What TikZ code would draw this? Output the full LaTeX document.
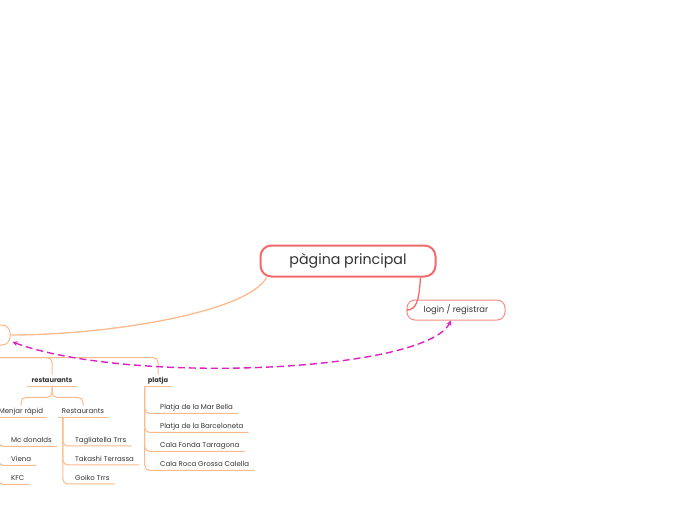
\documentclass[tikz,border=0pt]{standalone}
\usepackage{fontspec}
\setmainfont{Poppins}
\usetikzlibrary{arrows.meta,calc,positioning}
\definecolor{MainRed}{HTML}{F36A6A}
\definecolor{LoginRed}{HTML}{F98D84}
\definecolor{BranchOrange}{HTML}{FDBA8C}
\definecolor{LinkMagenta}{HTML}{DC22C2}
\definecolor{TextGray}{HTML}{333333}

\begin{document}
\begin{tikzpicture}[x=1pt,y=-1pt,text=TextGray,
    mainbox/.style={draw=MainRed,line width=2pt,rounded corners=11pt,fill=white,
      minimum width=175pt,minimum height=31pt,font=\fontsize{14.2}{16}\selectfont},
    loginbox/.style={draw=LoginRed,line width=1pt,rounded corners=8pt,fill=white,
      minimum width=98pt,minimum height=20pt,font=\fontsize{8.4}{10}\selectfont},
    startbox/.style={draw=BranchOrange,line width=1pt,rounded corners=8pt,
      minimum width=70pt,minimum height=20pt},
    topic/.style={font=\bfseries\fontsize{6.7}{8}\selectfont,inner xsep=4pt,inner ysep=2.5pt,
      text height=5.5pt,text depth=1pt},
    leaf/.style={anchor=west,font=\fontsize{7}{8}\selectfont,inner xsep=5pt,inner ysep=2.5pt,
      text height=5.5pt,text depth=1pt},
    branch/.style={draw=BranchOrange,line width=1pt,rounded corners=5pt},
    link/.style={draw=LinkMagenta,line width=1.4pt,dash pattern=on 7pt off 4pt,
      {Stealth[length=5pt,width=5pt]}-{Stealth[length=5pt,width=5pt]}}]
  \useasboundingbox[fill=white] (0,0) rectangle (697,520);

  % central topic and its two children
  \node[mainbox] (main) at (348,261) {pàgina principal};
  \node[loginbox] (login) at (456,310) {login / registrar};
  \node[startbox] (inici) at (-25,335) {};

  \draw[branch,line width=1.3pt] ($(main.south west)+(7,0)$) .. controls (248,312) and (110,335) .. (inici.east);
  \draw[draw=MainRed,line width=1.3pt] ($(main.south east)+(-16,0)$) .. controls (419,302) and (416,310) .. (login.west);

  % second level
  \node[topic] (restaurants) at (52,380.5) {restaurants};
  \node[topic] (platja) at (158,380.5) {platja};
  \draw[branch] (inici.south) -- ++(0,12) -| (restaurants.north);
  \draw[branch] (inici.south) -- ++(0,12) -| (platja.north);
  \foreach \n in {restaurants,platja}
    \draw[branch,rounded corners=0pt] (\n.south west) -- (\n.south east);

  % third level
  \node[topic,font=\fontsize{7}{8}\selectfont] (menjar) at (21,411.5) {Menjar ràpid};
  \node[topic,font=\fontsize{7}{8}\selectfont] (restlist) at (83,411.5) {Restaurants};
  \draw[branch] (restaurants.south) -- ++(0,11) -| (menjar.north);
  \draw[branch] (restaurants.south) -- ++(0,11) -| (restlist.north);
  \foreach \n in {menjar,restlist}
    \draw[branch,rounded corners=0pt] (\n.south west) -- (\n.south east);

  % leaves
  \foreach \n/\txt/\y in {mc/Mc donalds/440.5,viena/Viena/459.5,kfc/KFC/478.5}{
    \node[leaf] (\n) at (6,\y) {\txt};
    \draw[branch] ($(menjar.south west)+(4,0)$) |- (\n.south east);
  }
  \foreach \n/\txt/\y in {tag/Tagliatella Trrs/440,tak/Takashi Terrassa/459,goi/Goiko Trrs/478}{
    \node[leaf] (\n) at (70,\y) {\txt};
    \draw[branch] ($(restlist.south west)+(5,0)$) |- (\n.south east);
  }
  \foreach \n/\txt/\y in {mar/Platja de la Mar Bella/407.5,barc/Platja de la Barceloneta/426.5,
      fonda/Cala Fonda Tarragona/445.5,roca/Cala Roca Grossa Calella/464.5}{
    \node[leaf] (\n) at (155,\y) {\txt};
    \draw[branch] ($(platja.south west)+(1,0)$) |- (\n.south east);
  }

  % relation
  \draw[link] ($(inici.east)+(2,7)$) .. controls (130,385) and (425,372) .. ($(login.south)+(-5,0)$);
\end{tikzpicture}
\end{document}
